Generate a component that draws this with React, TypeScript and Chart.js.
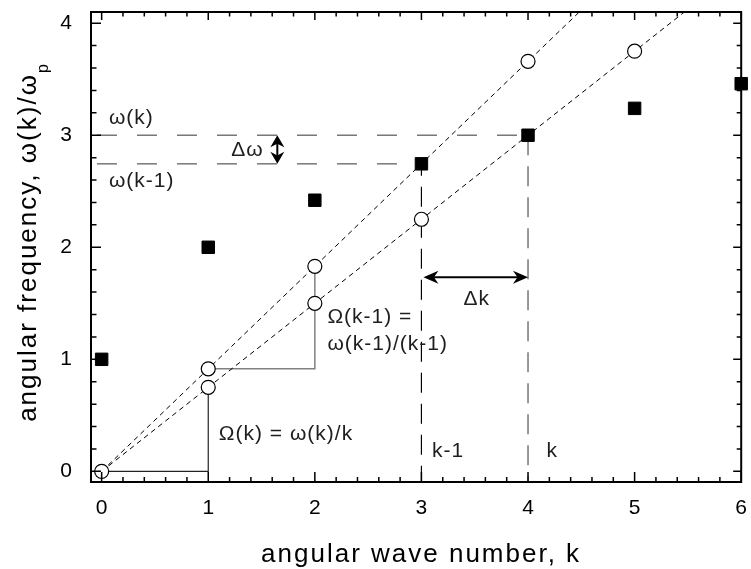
import React, { useEffect, useRef } from 'react';
import { Chart, registerables } from 'chart.js';

Chart.register(...registerables);

// ---- data ----
const kValues = [0, 1, 2, 3, 4, 5, 6];
const omegaValues = [1.0, 2.0, 2.42, 2.745, 3.0, 3.24, 3.46];

const steepCircleK = [0, 1, 2, 4];
const steepCircleOmega = [0, 0.915, 1.83, 3.66];
const shallowCircleK = [1, 2, 3, 5];
const shallowCircleOmega = [0.75, 1.5, 2.25, 3.75];

const phaseSlopes = [0.915, 0.75];

const xTickValues = [0, 1, 2, 3, 4, 5, 6];
const yTickValues = [0, 1, 2, 3, 4];
const xRange = [-0.1, 6.0];
const yRange = [-0.095, 4.1];
const minorStep = 0.2;

// construction lines
const omegaKStepK = [0, 1, 1];
const omegaKStepW = [0, 0, 0.75];
const omegaKm1StepK = [1, 2, 2];
const omegaKm1StepW = [0.915, 0.915, 1.83];

// annotation texts (data coordinates, left / middle)
const noteTexts = ['ω(k)', 'ω(k-1)', 'Δω', 'Ω(k-1) =', 'ω(k-1)/(k-1)', 'Ω(k) = ω(k)/k', 'Δk', 'k-1', 'k'];
const noteK = [0.068, 0.068, 1.215, 2.118, 2.118, 1.099, 3.395, 3.1, 4.174];
const noteW = [3.155, 2.59, 2.87, 1.379, 1.131, 0.328, 1.533, 0.18, 0.18];

const deltaOmegaArrowK = 1.648;
const deltaKArrowW = 1.732;

const xTitle = 'angular wave number, k';
const yTitleMain = 'angular frequency, ω(k)/ω';
const yTitleSub = 'p';

const FONT = '"Liberation Sans", Arial, Helvetica, sans-serif';

function pts(xs: number[], ys: number[]) {
  return xs.map((x, i) => ({ x, y: ys[i] }));
}

function arrowHead(ctx: CanvasRenderingContext2D, x: number, y: number, dx: number, dy: number, len: number, half: number) {
  const px = -dy, py = dx;
  const bx = x - dx * len, by = y - dy * len;
  const ix = x - dx * len * 0.7, iy = y - dy * len * 0.7;
  ctx.beginPath();
  ctx.moveTo(x, y);
  ctx.lineTo(bx + px * half, by + py * half);
  ctx.lineTo(ix, iy);
  ctx.lineTo(bx - px * half, by - py * half);
  ctx.closePath();
  ctx.fill();
}

const decorPlugin = {
  id: 'decor',
  afterDatasetsDraw(chart: any) {
    const ctx: CanvasRenderingContext2D = chart.ctx;
    const xs = chart.scales.x, ys = chart.scales.y;
    const { left, right, top, bottom } = chart.chartArea;
    ctx.save();

    // arrows
    ctx.fillStyle = '#000';
    ctx.strokeStyle = '#000';
    ctx.lineWidth = 2;
    {
      const x = xs.getPixelForValue(deltaOmegaArrowK);
      const y1 = ys.getPixelForValue(omegaValues[4]);
      const y2 = ys.getPixelForValue(omegaValues[3]);
      ctx.beginPath();
      ctx.moveTo(x, y1 + 6);
      ctx.lineTo(x, y2 - 6);
      ctx.stroke();
      arrowHead(ctx, x, y1, 0, -1, 12, 7);
      arrowHead(ctx, x, y2, 0, 1, 12, 7);
    }
    {
      const y = ys.getPixelForValue(deltaKArrowW);
      const x1 = xs.getPixelForValue(kValues[3]);
      const x2 = xs.getPixelForValue(kValues[4]);
      ctx.beginPath();
      ctx.moveTo(x1 + 6, y);
      ctx.lineTo(x2 - 6, y);
      ctx.stroke();
      arrowHead(ctx, x1 + 2, y, -1, 0, 15, 6.5);
      arrowHead(ctx, x2, y, 1, 0, 15, 6.5);
    }

    // annotation texts
    ctx.fillStyle = '#1e1e1e';
    ctx.font = `21px ${FONT}`;
    (ctx as any).letterSpacing = '1px';
    ctx.textAlign = 'left';
    ctx.textBaseline = 'middle';
    noteTexts.forEach((t, i) => {
      ctx.fillText(t, xs.getPixelForValue(noteK[i]), ys.getPixelForValue(noteW[i]));
    });

    // frame
    ctx.strokeStyle = '#000';
    ctx.lineWidth = 2;
    ctx.strokeRect(left, top, right - left, bottom - top);

    // ticks (inward, all four sides)
    ctx.lineWidth = 1.5;
    ctx.beginPath();
    const nx = Math.round((xTickValues[xTickValues.length - 1] - xTickValues[0]) / minorStep);
    for (let i = 0; i <= nx; i++) {
      const v = xTickValues[0] + i * minorStep;
      const px = xs.getPixelForValue(v);
      const major = i % 5 === 0;
      ctx.moveTo(px, bottom);
      ctx.lineTo(px, bottom - (major ? 10 : 5));
      ctx.moveTo(px, top);
      ctx.lineTo(px, top + (major ? 8 : 4.5));
    }
    const ny = Math.round((yTickValues[yTickValues.length - 1] - yTickValues[0]) / minorStep);
    for (let i = 0; i <= ny; i++) {
      const v = yTickValues[0] + i * minorStep;
      const py = ys.getPixelForValue(v);
      const major = i % 5 === 0;
      ctx.moveTo(left, py);
      ctx.lineTo(left + (major ? 10 : 5.5), py);
      ctx.moveTo(right, py);
      ctx.lineTo(right - (major ? 8 : 4.5), py);
    }
    ctx.stroke();

    // axis titles
    ctx.fillStyle = '#000';
    (ctx as any).letterSpacing = '2px';
    ctx.font = `26px ${FONT}`;
    ctx.textAlign = 'center';
    ctx.textBaseline = 'alphabetic';
    ctx.fillText(xTitle, (left + right) / 2 + 5, 562);

    ctx.save();
    ctx.translate(36, (top + bottom) / 2 - 5);
    ctx.rotate(-Math.PI / 2);
    ctx.font = `26px ${FONT}`;
    const wMain = ctx.measureText(yTitleMain).width;
    ctx.font = `16px ${FONT}`;
    const wSub = ctx.measureText(yTitleSub).width;
    const start = -(wMain + wSub) / 2;
    ctx.textAlign = 'left';
    ctx.font = `26px ${FONT}`;
    ctx.fillText(yTitleMain, start, 0);
    ctx.font = `16px ${FONT}`;
    ctx.fillText(yTitleSub, start + wMain, 12);
    ctx.restore();

    ctx.restore();
  },
};

function zeroPadding(scale: any) {
  scale.paddingTop = 0;
  scale.paddingBottom = 0;
  scale.paddingLeft = 0;
  scale.paddingRight = 0;
}

export default function App() {
  const ref = useRef<HTMLCanvasElement | null>(null);

  useEffect(() => {
    if (!ref.current) return;
    const xMax = xRange[1];
    const chart = new Chart(ref.current, {
      type: 'scatter',
      data: {
        datasets: [
          {
            label: 'ω(k)',
            data: pts(kValues, omegaValues),
            pointStyle: 'rect',
            pointRadius: 8.8,
            pointBackgroundColor: '#000',
            pointBorderColor: '#000',
            pointBorderWidth: 1,
            showLine: false,
            clip: false,
            order: 0,
          } as any,
          {
            label: 'Ω steep',
            data: pts(steepCircleK, steepCircleOmega),
            pointStyle: 'circle',
            pointRadius: 7,
            pointBackgroundColor: '#fff',
            pointBorderColor: '#000',
            pointBorderWidth: 1.2,
            showLine: false,
            clip: false,
            order: 0,
          } as any,
          {
            label: 'Ω shallow',
            data: pts(shallowCircleK, shallowCircleOmega),
            pointStyle: 'circle',
            pointRadius: 7,
            pointBackgroundColor: '#fff',
            pointBorderColor: '#000',
            pointBorderWidth: 1.2,
            showLine: false,
            clip: false,
            order: 0,
          } as any,
          ...phaseSlopes.map((s) => ({
            label: 'slope',
            data: [
              { x: 0, y: 0 },
              { x: xMax, y: s * xMax },
            ],
            showLine: true,
            pointRadius: 0,
            borderColor: '#000',
            borderWidth: 1,
            borderDash: [5, 4],
            order: 2,
          })),
          {
            label: 'Ω(k) step',
            data: pts(omegaKStepK, omegaKStepW),
            showLine: true,
            pointRadius: 0,
            borderColor: '#222',
            borderWidth: 1.2,
            order: 2,
          },
          {
            label: 'Ω(k-1) step',
            data: pts(omegaKm1StepK, omegaKm1StepW),
            showLine: true,
            pointRadius: 0,
            borderColor: '#808080',
            borderWidth: 1.5,
            order: 2,
          },
          {
            label: 'ω(k) level',
            data: [
              { x: xRange[0], y: omegaValues[4] },
              { x: kValues[4], y: omegaValues[4] },
            ],
            showLine: true,
            pointRadius: 0,
            borderColor: '#777',
            borderWidth: 1.5,
            borderDash: [20, 20],
            borderDashOffset: 34,
            order: 2,
          },
          {
            label: 'ω(k-1) level',
            data: [
              { x: xRange[0], y: omegaValues[3] },
              { x: kValues[3], y: omegaValues[3] },
            ],
            showLine: true,
            pointRadius: 0,
            borderColor: '#777',
            borderWidth: 1.5,
            borderDash: [20, 20],
            borderDashOffset: 34,
            order: 2,
          },
          {
            label: 'k-1 vertical',
            data: [
              { x: kValues[3], y: omegaValues[3] },
              { x: kValues[3], y: yRange[0] },
            ],
            showLine: true,
            pointRadius: 0,
            borderColor: '#000',
            borderWidth: 1.2,
            borderDash: [20, 11],
            borderDashOffset: 8,
            order: 2,
          },
          {
            label: 'k vertical',
            data: [
              { x: kValues[4], y: omegaValues[4] },
              { x: kValues[4], y: yRange[0] },
            ],
            showLine: true,
            pointRadius: 0,
            borderColor: '#777',
            borderWidth: 1.5,
            borderDash: [20, 11],
            order: 2,
          },
        ],
      },
      options: {
        responsive: false,
        animation: false,
        devicePixelRatio: 1,
        events: [],
        layout: { padding: { top: 12, right: 8, left: 0, bottom: 0 } },
        plugins: {
          legend: { display: false },
          tooltip: { enabled: false },
        },
        scales: {
          x: {
            type: 'linear',
            min: xRange[0],
            max: xRange[1],
            grid: { display: false },
            border: { display: false },
            ticks: {
              color: '#000',
              font: { family: FONT, size: 21 },
              padding: 6,
              maxRotation: 0,
              autoSkip: false,
            },
            afterBuildTicks: (scale: any) => {
              scale.ticks = xTickValues.map((v) => ({ value: v }));
            },
            afterFit: (scale: any) => {
              scale.height = 87;
              zeroPadding(scale);
            },
          },
          y: {
            type: 'linear',
            min: yRange[0],
            max: yRange[1],
            grid: { display: false },
            border: { display: false },
            ticks: {
              color: '#000',
              font: { family: FONT, size: 21 },
              padding: 11,
              autoSkip: false,
            },
            afterBuildTicks: (scale: any) => {
              scale.ticks = yTickValues.map((v) => ({ value: v }));
            },
            afterFit: (scale: any) => {
              scale.width = 91;
              zeroPadding(scale);
            },
          },
        },
      },
      plugins: [decorPlugin],
    } as any);
    return () => chart.destroy();
  }, []);

  return (
    <div style={{ position: 'absolute', left: 0, top: 0, width: 751, height: 569, background: '#fff' }}>
      <canvas ref={ref} width={751} height={569} style={{ display: 'block' }} />
    </div>
  );
}
